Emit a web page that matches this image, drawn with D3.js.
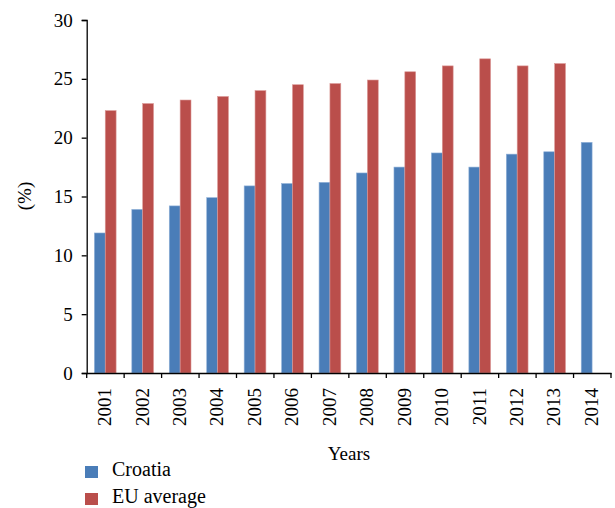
<!DOCTYPE html>
<html><head><meta charset="utf-8">
<script src="https://cdnjs.cloudflare.com/ajax/libs/d3/7.8.5/d3.min.js"></script>
<style>body{margin:0;background:#fff;} svg{display:block;}</style>
</head><body>
<svg id="c" width="615" height="508"></svg>
<script>
const years = ["2001","2002","2003","2004","2005","2006","2007","2008","2009","2010","2011","2012","2013","2014"];
const croatia = [11.9, 13.9, 14.2, 14.9, 15.9, 16.1, 16.2, 17.0, 17.5, 18.7, 17.5, 18.6, 18.8, 19.6];
const euAverage = [22.3, 22.9, 23.2, 23.5, 24.0, 24.5, 24.6, 24.9, 25.6, 26.1, 26.7, 26.1, 26.3, null];
const seriesNames = ["Croatia", "EU average"];
const seriesColors = ["#4A7DB8", "#BA4E4B"];
const yTicks = [0, 5, 10, 15, 20, 25, 30];

const svg = d3.select("#c");
const font = "'Liberation Serif', 'Times New Roman', serif";
const m = {left: 86.7};
const x0 = d3.scaleBand().domain(years).range([m.left, 611]).padding(0);
const bw = x0.bandwidth();
const x1 = d3.scaleBand().domain(seriesNames).range([bw*0.205, bw*0.785]).padding(0);
const y = d3.scaleLinear().domain([0, 30]).range([373, 20]);

const data = years.map((yr, i) => ({year: yr, vals: [croatia[i], euAverage[i]]}));

const g = svg.append("g");
data.forEach(d => {
  d.vals.forEach((v, k) => {
    if (v == null) return;
    g.append("rect")
      .attr("x", x0(d.year) + x1(seriesNames[k]))
      .attr("y", y(v))
      .attr("width", x1.bandwidth())
      .attr("height", y(0) - y(v))
      .attr("fill", seriesColors[k])
      .attr("stroke", k === 0 ? "#8FB0D8" : "#DC9A98")
      .attr("stroke-width", 0.6);
  });
});

// y axis
const ya = svg.append("g").attr("transform", `translate(${m.left},0)`)
  .call(d3.axisLeft(y).tickValues(yTicks).tickSize(5).tickPadding(9).tickFormat(d3.format("d")));
ya.select(".domain").attr("stroke", "#000").attr("stroke-width", 1.3);
ya.selectAll(".tick line").attr("stroke", "#000").attr("stroke-width", 1.3);
ya.selectAll("text").attr("font-family", font).attr("font-size", 19).attr("fill", "#000");

// x axis
const xa = svg.append("g").attr("transform", `translate(0,${y(0)})`)
  .call(d3.axisBottom(x0).tickSize(0).tickSizeOuter(0));
xa.select(".domain").attr("stroke", "#000").attr("stroke-width", 1.3);
xa.selectAll(".tick text")
  .attr("font-family", font).attr("font-size", 19).attr("fill", "#000")
  .attr("transform", "rotate(-90)")
  .attr("text-anchor", "end")
  .attr("x", -15).attr("y", -1).attr("dy", "0.35em");
// boundary tick marks
const bounds = years.map(yr => x0(yr)).concat([x0.range()[1]]);
svg.append("g").selectAll("line").data(bounds).join("line")
  .attr("x1", d => d).attr("x2", d => d)
  .attr("y1", y(0)).attr("y2", y(0) + 5)
  .attr("stroke", "#000").attr("stroke-width", 1.3);

// axis titles
svg.append("text").attr("transform", `translate(31,196) rotate(-90)`)
  .attr("text-anchor", "middle").attr("font-family", font).attr("font-size", 19).text("(%)");
svg.append("text").attr("x", 349).attr("y", 460)
  .attr("text-anchor", "middle").attr("font-family", font).attr("font-size", 19).text("Years");

// legend
const leg = svg.append("g");
seriesNames.forEach((n, k) => {
  const ly = 466 + k * 27;
  leg.append("rect").attr("x", 85).attr("y", ly).attr("width", 13).attr("height", 12).attr("fill", seriesColors[k]);
  leg.append("text").attr("x", 112).attr("y", ly + 10).attr("font-family", font).attr("font-size", 20).text(n);
});
</script>
</body></html>
